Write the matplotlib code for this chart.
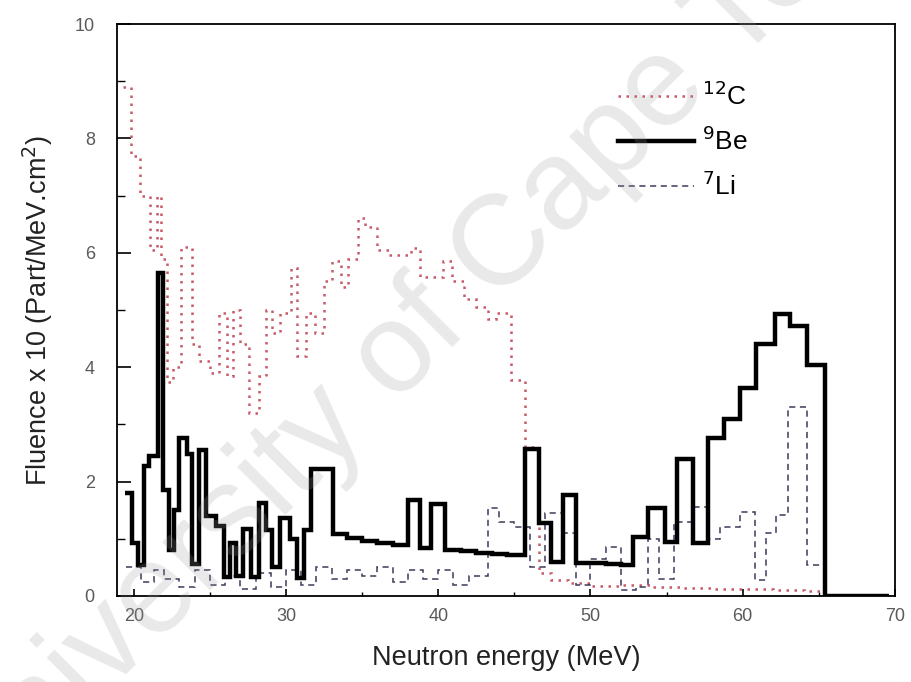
import matplotlib
matplotlib.use("Agg")
import matplotlib.pyplot as plt
from matplotlib.ticker import MultipleLocator

plt.rcParams['font.family'] = ['Liberation Sans', 'DejaVu Sans']

# 9Be spectrum (bin edges in MeV, fluence x 10)
be_edges = [19.4, 19.9, 20.3, 20.7, 21.0, 21.6, 21.9, 22.3, 22.65, 23.0, 23.5,
            23.85, 24.3, 24.75, 25.4, 25.9, 26.3, 26.7, 27.15, 27.7, 28.2, 28.7,
            29.05, 29.6, 30.25, 30.7, 31.2, 31.65, 33.1, 34.0, 35.0, 36.0, 37.0,
            38.0, 38.8, 39.5, 40.45, 41.5, 42.5, 43.5, 44.5, 45.7, 46.6, 47.4,
            48.2, 49.05, 50.0, 51.0, 52.0, 52.8, 53.8, 54.9, 55.7, 56.75, 57.7,
            58.8, 59.8, 60.9, 62.1, 63.1, 64.2, 65.4, 69.6]
be_vals = [1.8, 0.92, 0.54, 2.28, 2.45, 5.65, 1.85, 0.8, 1.5, 2.76, 2.48,
           0.56, 2.55, 1.4, 1.22, 0.33, 0.93, 0.35, 1.17, 0.33, 1.62, 1.15,
           0.51, 1.36, 1.0, 0.32, 1.15, 2.22, 1.08, 1.02, 0.97, 0.93, 0.9,
           1.68, 0.84, 1.6, 0.8, 0.78, 0.76, 0.74, 0.72, 2.57, 1.28, 0.6,
           1.77, 0.58, 0.57, 0.56, 0.55, 1.03, 1.53, 0.95, 2.4, 0.93, 2.76,
           3.1, 3.63, 4.4, 4.93, 4.72, 4.04, 0.0]

# 12C spectrum
c_edges = [19.3, 19.8, 20.4, 21.05, 21.5, 21.8, 22.2, 22.6, 23.1, 23.8, 24.3,
           25.0, 25.6, 26.1, 26.5, 27.0, 27.6, 28.2, 28.7, 29.1, 29.6, 30.3,
           30.75, 31.3, 31.9, 32.5, 33.0, 33.6, 34.1, 34.7, 35.2, 36.0, 36.8,
           38.2, 38.8, 40.3, 40.9, 41.7, 42.5, 43.3, 43.8, 44.8, 45.7, 46.6,
           47.4, 48.5, 50.0, 52.0, 54.0, 56.0, 58.0, 60.0, 62.0, 64.0, 65.4,
           69.6]
c_vals = [8.9, 7.7, 7.0, 6.05, 7.0, 5.9, 3.75, 4.0, 6.1, 4.4, 4.1,
          3.9, 4.95, 3.85, 5.0, 4.4, 3.2, 3.85, 5.0, 4.6, 4.95, 5.73,
          4.2, 4.95, 4.6, 5.5, 5.85, 5.4, 5.9, 6.6, 6.45, 6.05, 5.96,
          6.08, 5.58, 5.85, 5.5, 5.2, 5.05, 4.85, 4.95, 3.78, 2.6, 0.4,
          0.28, 0.22, 0.18, 0.2, 0.15, 0.14, 0.12, 0.12, 0.1, 0.08, 0.0]

# 7Li spectrum
li_edges = [19.5, 20.5, 21.3, 22.0, 23.0, 24.0, 25.0, 26.0, 27.0, 28.0, 29.0,
            30.0, 31.0, 32.0, 33.0, 34.0, 35.0, 36.0, 37.0, 38.0, 39.0, 40.0,
            41.0, 42.0, 43.3, 44.0, 45.0, 46.0, 47.0, 48.2, 49.05, 50.0, 51.0,
            52.0, 53.0, 53.8, 54.5, 55.5, 56.8, 57.7, 58.5, 59.8, 60.8, 61.5,
            62.2, 63.0, 64.2, 65.4, 69.6]
li_vals = [0.5, 0.25, 0.45, 0.3, 0.15, 0.45, 0.2, 0.35, 0.12, 0.4, 0.15,
           0.45, 0.2, 0.5, 0.3, 0.45, 0.35, 0.5, 0.25, 0.45, 0.3, 0.45,
           0.2, 0.35, 1.53, 1.3, 1.2, 0.5, 1.45, 1.1, 0.2, 0.65, 0.86,
           0.1, 0.15, 1.0, 0.3, 1.3, 1.56, 1.0, 1.2, 1.47, 0.28, 1.1,
           1.42, 3.3, 0.54, 0.0]

x_ticks = [20, 30, 40, 50, 60, 70]
y_ticks = [0, 2, 4, 6, 8, 10]

fig = plt.figure(figsize=(9.11, 6.82), dpi=100)
ax = fig.add_axes([0.1284, 0.1261, 0.8540, 0.8387])

ax.stairs(c_vals, c_edges, baseline=None, color='#c85a68', linewidth=1.8,
          linestyle=(0, (1, 2.2)), label=r'$^{12}$C', zorder=2)
ax.stairs(be_vals, be_edges, baseline=None, color='black', linewidth=3.2,
          label=r'$^{9}$Be', zorder=3)
ax.stairs(li_vals, li_edges, baseline=None, color='#3a3a5a', linewidth=1.1,
          linestyle=(0, (4, 3)), label=r'$^{7}$Li', zorder=2)

ax.set_xlim(18.9, 69.6)
ax.set_ylim(0, 10)
ax.set_xticks(x_ticks)
ax.set_yticks(y_ticks)
ax.xaxis.set_minor_locator(MultipleLocator(5))
ax.yaxis.set_minor_locator(MultipleLocator(1))
ax.tick_params(which='major', direction='in', length=10, width=1.2,
               labelsize=13, labelcolor='#5a5a5a')
ax.tick_params(axis='y', which='major', pad=16)
ax.tick_params(axis='x', which='major', pad=9, length=5)
ax.tick_params(which='minor', direction='in', length=6, width=1.0)
ax.tick_params(axis='x', which='minor', length=3)
for s in ax.spines.values():
    s.set_linewidth(1.3)

ax.set_xlabel('Neutron energy (MeV)', fontsize=19.5, color='#222222', labelpad=14)
ax.set_ylabel(r'Fluence x 10 (Part/MeV.cm$^2$)', fontsize=19.5,
              color='#222222', labelpad=14)

leg = ax.legend(loc='upper left', bbox_to_anchor=(0.627, 0.922), frameon=False,
                fontsize=19, handlelength=2.9, handletextpad=0.3,
                labelspacing=0.62, borderpad=0)

fig.text(0.479, 0.535, 'University of Cape Town', fontsize=92, color='#9a9a9a',
         alpha=0.22, rotation=45, ha='center', va='center', zorder=10)

fig.savefig('out.png', dpi=100)
